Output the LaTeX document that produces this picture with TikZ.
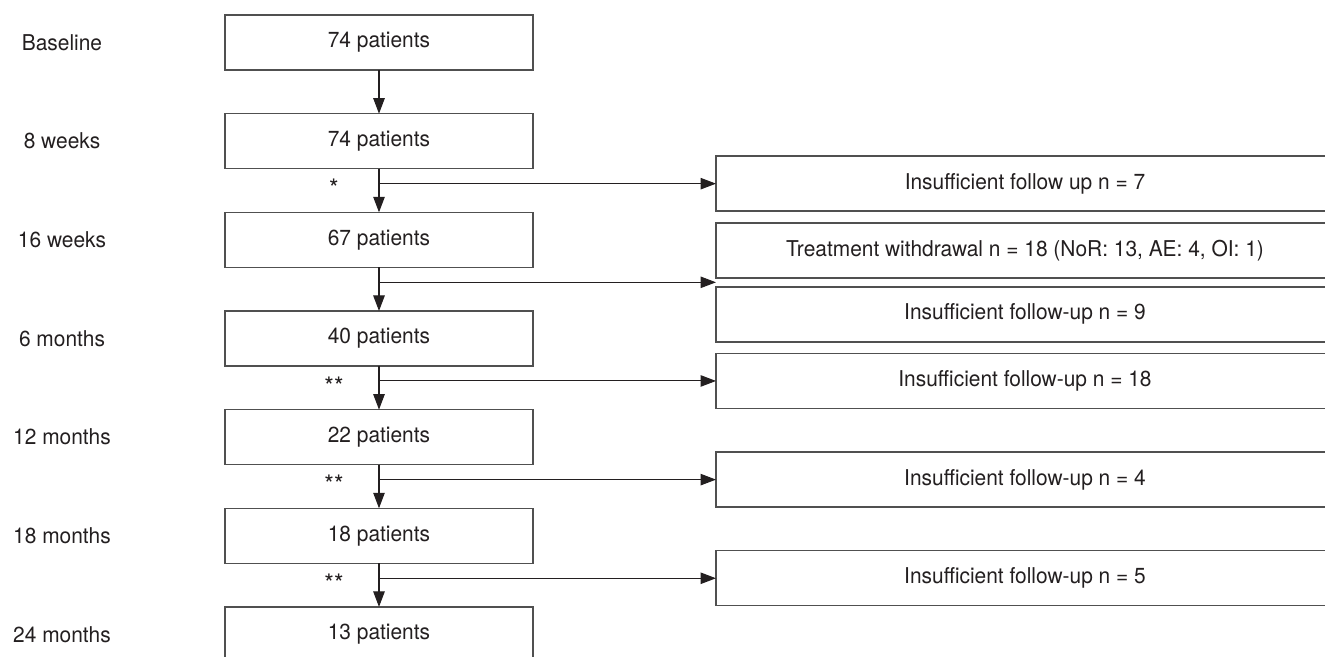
\documentclass[tikz,border=0pt]{standalone}
\usepackage{fontspec}
\setmainfont[FakeStretch=0.96]{TeX Gyre Heros}
\usetikzlibrary{arrows.meta,positioning,calc}
\definecolor{inkgray}{HTML}{231F20}
\definecolor{boxgray}{HTML}{505050}
\tikzset{
  ptblk/.style={draw=boxgray,line width=0.8pt,rectangle,minimum width=6.16cm,minimum height=1.1cm,inner sep=0pt,outer sep=0pt,text=inkgray,font=\fontsize{12.4}{14}\selectfont},
  outblk/.style={ptblk,minimum width=12.36cm},
  timelbl/.style={text=inkgray,font=\fontsize{12.4}{14}\selectfont},
  astlbl/.style={text=inkgray,font=\fontsize{14.5}{16}\selectfont,inner sep=0pt},
  arr/.style={-{Triangle[length=0.31cm,width=0.23cm]},line width=0.6pt,draw=inkgray,fill=inkgray}
}

\begin{document}
\begin{tikzpicture}[node distance=0.873cm]
  \useasboundingbox (0,0) rectangle (26.5,-13.12);
  \clip (0,0) rectangle (26.5,-13.12);
  \node[ptblk] (b1) at (7.58,-0.85) {74 patients};
  \node[ptblk,below=of b1] (b2) {74 patients};
  \node[ptblk,below=of b2] (b3) {67 patients};
  \node[ptblk,below=of b3] (b4) {40 patients};
  \node[ptblk,below=of b4] (b5) {22 patients};
  \node[ptblk,below=of b5] (b6) {18 patients};
  \node[ptblk,below=of b6] (b7) {13 patients};

  \foreach \i/\t in {1/Baseline,2/8 weeks,3/16 weeks,4/6 months,5/12 months,6/18 months,7/24 months}
    \node[timelbl] (t\i) at (1.24,0 |- b\i) {\t};

  \coordinate (br1) at ($(b2.south)+(0,-0.3)$);
  \coordinate (br2) at ($(b3.south)+(0,-0.3)$);
  \coordinate (br3) at ($(b4.south)+(0,-0.3)$);
  \coordinate (br4) at ($(b5.south)+(0,-0.3)$);
  \coordinate (br5) at ($(b6.south)+(0,-0.3)$);

  \node[outblk,right=6.74cm of br1] (o1) {Insufficient follow up n = 7};
  \node[outblk,above right=0.09cm and 6.74cm of br2] (o2) {Treatment withdrawal n = 18 (NoR: 13, AE: 4, OI: 1)};
  \node[outblk,below right=0.09cm and 6.74cm of br2] (o3) {Insufficient follow-up n = 9};
  \node[outblk,right=6.74cm of br3] (o4) {Insufficient follow-up n = 18};
  \node[outblk,right=6.74cm of br4] (o5) {Insufficient follow-up n = 4};
  \node[outblk,right=6.74cm of br5] (o6) {Insufficient follow-up n = 5};
  \coordinate (gap2) at ($(o2.south west)!0.5!(o3.north west)$);

  \node[astlbl] (s1) at ($(br1)+(-0.9,-0.1)$) {*};
  \node[astlbl] (s3) at ($(br3)+(-0.9,-0.1)$) {**};
  \node[astlbl] (s4) at ($(br4)+(-0.9,-0.1)$) {**};
  \node[astlbl] (s5) at ($(br5)+(-0.9,-0.1)$) {**};

  \draw[arr] (b1) -- (b2);
  \draw[arr] (b2) -- (b3);
  \draw[arr] (b3) -- (b4);
  \draw[arr] (b4) -- (b5);
  \draw[arr] (b5) -- (b6);
  \draw[arr] (b6) -- (b7);
  \draw[arr] (br1) -- (o1.west);
  \draw[arr] (br2) -- (gap2);
  \draw[arr] (br3) -- (o4.west);
  \draw[arr] (br4) -- (o5.west);
  \draw[arr] (br5) -- (o6.west);
\end{tikzpicture}
\end{document}
